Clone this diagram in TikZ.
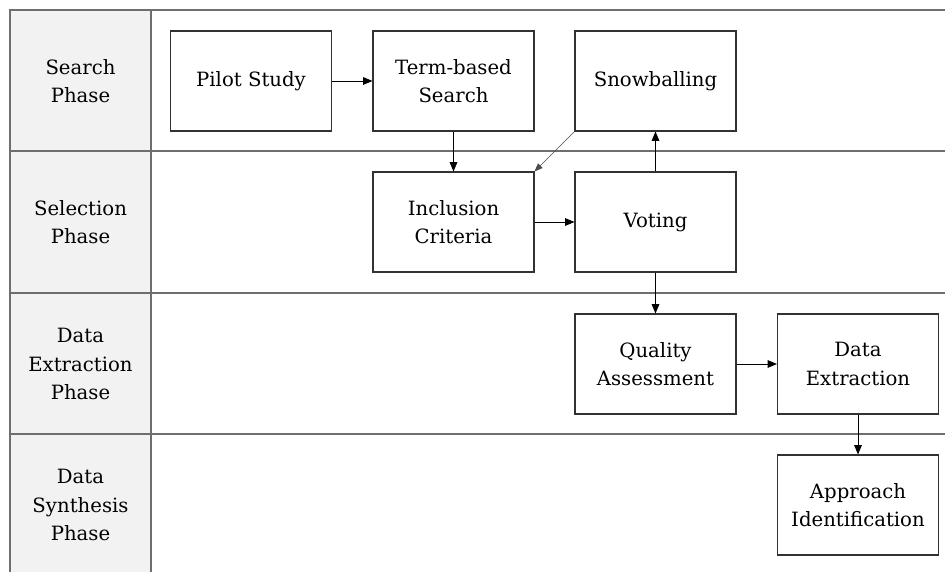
\documentclass[tikz,border=0pt]{standalone}
\usepackage{fontspec}
\setmainfont{DejaVu Serif}
\usepackage{tikz}
\usetikzlibrary{arrows.meta}
\definecolor{lanegray} {RGB}{242,242,242}
\definecolor{laneline} {RGB}{110,110,110}
\definecolor{boxline}  {RGB}{50,50,50}
\tikzset{
  box/.style={rectangle,draw=boxline,fill=white,line width=0.9pt,
              minimum width=4.83cm,minimum height=3.0cm,
              font=\fontsize{16.8}{24}\selectfont,align=center},
  lanelabel/.style={font=\fontsize{16.8}{24}\selectfont,align=center},
  arr/.style={-{Triangle[length=8pt,width=6.5pt]},line width=0.8pt,#1},
  arr/.default=black,
  lane/.style={laneline,line width=1.2pt},
}
\begin{document}
\begin{tikzpicture}[x=0.03cm,y=-0.03cm]
    \useasboundingbox (0,0) rectangle (945,572);
    % phase column and swimlanes
    \fill[lanegray] (10,10) rectangle (151,572);
    \draw[lane] (10,572)--(10,10)--(945,10);
    \draw[lane] (151,10)--(151,572);
    \foreach \y in {151,293,434}{
      \draw[lane] (10,\y)--(945,\y);
    }
    \node[lanelabel] (lsearch)  at (80.5,81)  {Search\\Phase};
    \node[lanelabel] (lselect)  at (80.5,222) {Selection\\Phase};
    \node[lanelabel] (lextract) at (80.5,364) {Data\\Extraction\\Phase};
    \node[lanelabel] (lsynth)   at (80.5,505) {Data\\Synthesis\\Phase};
    % process steps
    \node[box] (pilot)      at (251,81)    {Pilot Study};
    \node[box] (termsearch) at (453.5,81)  {Term-based\\Search};
    \node[box] (snowball)   at (655.5,81)  {Snowballing};
    \node[box] (inclusion)  at (453.5,222) {Inclusion\\Criteria};
    \node[box] (voting)     at (655.5,222) {Voting};
    \node[box] (quality)    at (655.5,364) {Quality\\Assessment};
    \node[box] (extraction) at (858,364)   {Data\\Extraction};
    \node[box] (approach)   at (858,505)   {Approach\\Identification};
    % flow
    \draw[arr] (pilot)--(termsearch);
    \draw[arr] (termsearch)--(inclusion);
    \draw[-{Triangle[length=7pt,width=5.5pt]},line width=0.5pt,black!70]
          (snowball.south west)--(inclusion.north east);
    \draw[arr] (inclusion)--(voting);
    \draw[arr] (voting)--(snowball);
    \draw[arr] (voting)--(quality);
    \draw[arr] (quality)--(extraction);
    \draw[arr] (extraction)--(approach);
  \end{tikzpicture}
\end{document}
